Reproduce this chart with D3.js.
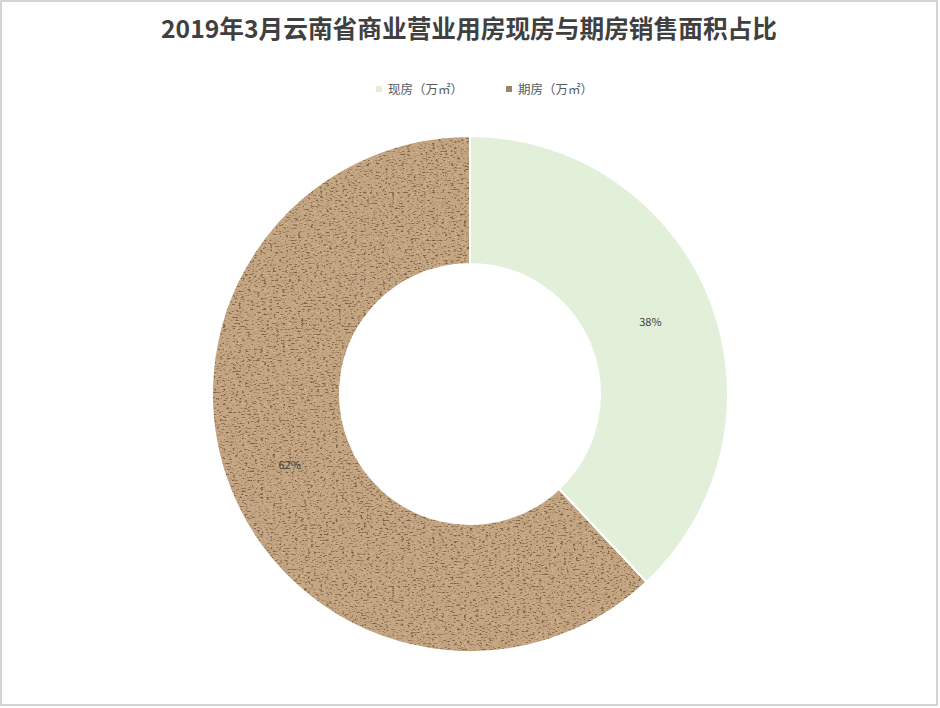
<!DOCTYPE html>
<html>
<head>
<meta charset="utf-8">
<script src="https://cdn.jsdelivr.net/npm/d3@7"></script>
<style>
  body { margin: 0; background: #fff; }
  svg { display: block; font-family: "Noto Sans CJK SC", "Noto Sans", sans-serif; }
</style>
</head>
<body>
<svg width="940" height="708"></svg>
<script>
// chart data
var categories = ['现房（万㎡）', '期房（万㎡）'];
var shares = [38, 62];
var sliceColors = ['#e2efd9', '#c4a582'];

var svg = d3.select('svg');
var svgWidth = +svg.attr('width');
var svgHeight = +svg.attr('height');

// frame around the chart
svg.append('rect')
    .attr('x', 1).attr('y', 1)
    .attr('width', svgWidth - 4).attr('height', svgHeight - 4)
    .attr('fill', '#fff')
    .attr('stroke', '#d4d4d4')
    .attr('stroke-width', 2);

// granite-like texture for the 期房 slice
var defs = svg.append('defs');
var filter = defs.append('filter')
    .attr('id', 'granite')
    .attr('color-interpolation-filters', 'sRGB')
    .attr('x', 0).attr('y', 0).attr('width', 1).attr('height', 1);
filter.append('feTurbulence')
    .attr('type', 'fractalNoise')
    .attr('baseFrequency', '0.32 0.65')
    .attr('numOctaves', 3)
    .attr('seed', 11)
    .attr('result', 'noise');
filter.append('feColorMatrix')
    .attr('in', 'noise')
    .attr('type', 'matrix')
    .attr('values', '0 0 0 0 0.50  0 0 0 0 0.38  0 0 0 0 0.28  5 0 0 0 -2.75')
    .attr('result', 'dark');
filter.append('feColorMatrix')
    .attr('in', 'noise')
    .attr('type', 'matrix')
    .attr('values', '0 0 0 0 0.84  0 0 0 0 0.72  0 0 0 0 0.58  0 -4 0 0 1.7')
    .attr('result', 'light');
filter.append('feComposite')
    .attr('in', 'light').attr('in2', 'SourceGraphic')
    .attr('operator', 'atop').attr('result', 'withLight');
filter.append('feComposite')
    .attr('in', 'dark').attr('in2', 'withLight')
    .attr('operator', 'atop');

// title
svg.append('text')
    .attr('x', 469)
    .attr('y', 38)
    .attr('text-anchor', 'middle')
    .attr('font-size', 24.7)
    .attr('font-weight', 'bold')
    .attr('fill', '#404040')
    .text('2019年3月云南省商业营业用房现房与期房销售面积占比');

// legend
var legendX = [376, 506];
var legend = svg.selectAll('.legend')
    .data(categories)
    .enter()
    .append('g')
    .attr('class', 'legend')
    .attr('transform', function(d, i) { return 'translate(' + [legendX[i], 89] + ')'; });

legend.append('rect')
    .attr('x', 0).attr('y', -3)
    .attr('width', 6).attr('height', 6)
    .attr('fill', function(d, i) { return i === 1 ? '#9c8266' : sliceColors[i]; });

legend.append('text')
    .attr('x', 12)
    .attr('y', 4.5)
    .attr('font-size', 12.5)
    .attr('fill', '#595959')
    .text(function(d) { return d; });

// donut
var cx = 470, cy = 394;
var outerR = 258, innerR = 130;

var pie = d3.pie().sort(null).value(function(d) { return d; });
var arc = d3.arc().innerRadius(innerR).outerRadius(outerR);
var labelArc = d3.arc().innerRadius((innerR + outerR) / 2).outerRadius((innerR + outerR) / 2);

var chartG = svg.append('g')
    .attr('transform', 'translate(' + [cx, cy] + ')');

var arcs = pie(shares);

// fills
chartG.selectAll('.slice')
    .data(arcs)
    .enter()
    .append('path')
    .attr('class', 'slice')
    .attr('d', arc)
    .attr('fill', function(d, i) { return sliceColors[i]; })
    .attr('filter', function(d, i) { return i === 1 ? 'url(#granite)' : null; });

// white separators drawn on top so the texture does not spill onto them
chartG.selectAll('.sliceEdge')
    .data(arcs)
    .enter()
    .append('path')
    .attr('class', 'sliceEdge')
    .attr('d', arc)
    .attr('fill', 'none')
    .attr('stroke', '#fff')
    .attr('stroke-width', 2);

var total = d3.sum(shares);
chartG.selectAll('.label')
    .data(arcs)
    .enter()
    .append('text')
    .attr('class', 'label')
    .attr('transform', function(d) { return 'translate(' + labelArc.centroid(d) + ')'; })
    .attr('text-anchor', 'middle')
    .attr('dy', '0.35em')
    .attr('font-size', 11)
    .attr('fill', '#404040')
    .text(function(d) { return Math.round(d.value / total * 100) + '%'; });
</script>
</body>
</html>
